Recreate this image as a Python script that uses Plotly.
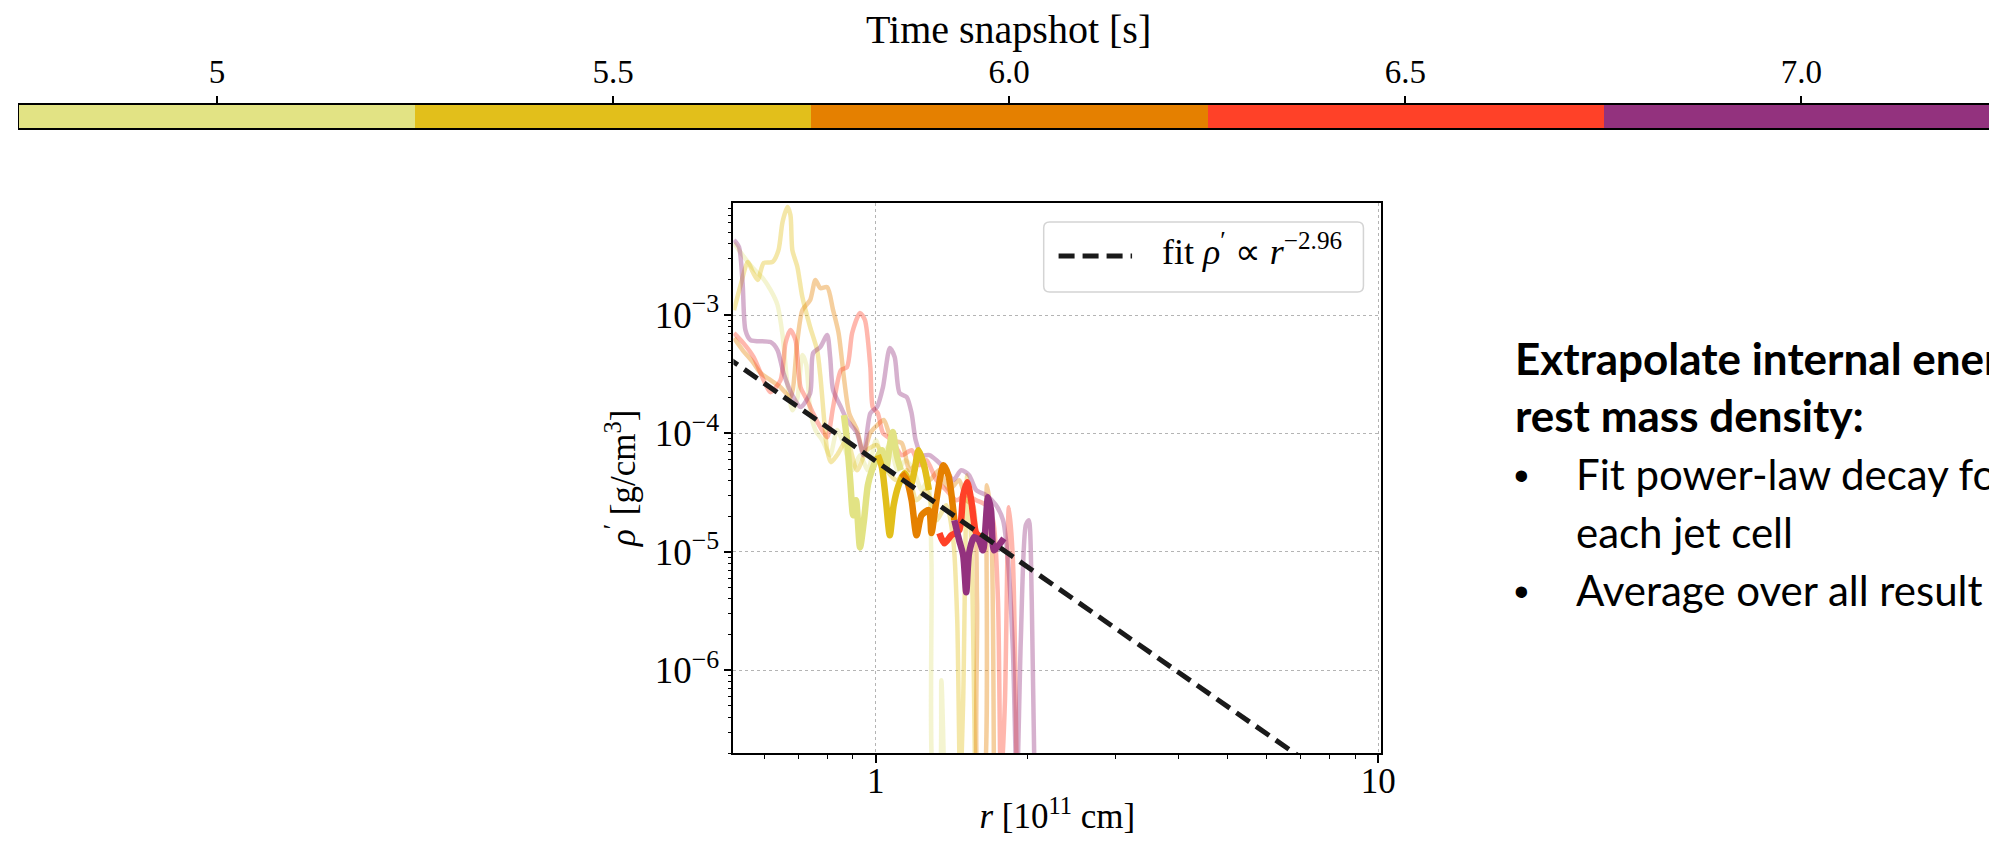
"""Jet-cell density profiles with a power-law fit and a time-snapshot colour bar"""

import plotly.graph_objects as go

# The page shows the figure 8px down from the top of the window, so the figure
# is made 8px shorter and all window positions are shifted by that amount.
OFF_Y = 8
W, H = 1997, 851 - OFF_Y

# Time snapshots [s] on the colour bar
snapshot_times = [5.0, 5.5, 6.0, 6.5, 7.0]
snapshot_labels = ["5", "5.5", "6.0", "6.5", "7.0"]

# Full radial profiles (drawn faded): r in 1e11 cm, rho' in g/cm^3
r_50 = [0.522, 0.543, 0.569, 0.595, 0.617, 0.637, 0.652, 0.667, 0.682, 0.698, 0.714, 0.727,
        0.740, 0.758, 0.782, 0.811, 0.837, 0.864, 0.897, 0.930, 0.964, 1.000, 1.028, 1.065,
        1.105, 1.146, 1.189, 1.233, 1.268, 1.290, 1.308, 1.332, 1.350, 1.369]
rho_50 = [4.06e-3, 3.21e-3, 2.50e-3, 2.06e-3, 1.63e-3, 1.22e-3, 6.78e-4, 2.56e-4, 1.57e-4,
          1.99e-4, 4.59e-4, 3.78e-4, 1.57e-4, 1.07e-4, 8.78e-5, 6.56e-5, 1.07e-4, 7.96e-5,
          4.89e-5, 6.56e-5, 4.89e-5, 8.78e-5, 6.56e-5, 7.96e-5, 4.89e-5, 5.94e-5, 4.89e-5,
          3.32e-5, 4.03e-5, 8.49e-6, 1e-7, 1e-7, 8.22e-7, 1e-7]

r_55 = [0.522, 0.538, 0.556, 0.569, 0.582, 0.598, 0.623, 0.640, 0.652, 0.667, 0.676, 0.682,
        0.698, 0.714, 0.740, 0.764, 0.775, 0.789, 0.800, 0.814, 0.837, 0.876, 0.917, 0.960,
        1.005, 1.052, 1.100, 1.152, 1.205, 1.261, 1.320, 1.381, 1.426, 1.452, 1.472, 1.492,
        1.520, 1.548, 1.577]
rho_55 = [1.10e-3, 1.79e-3, 2.81e-3, 2.31e-3, 1.98e-3, 2.75e-3, 2.81e-3, 3.54e-3, 6.11e-3,
          8.18e-3, 7.00e-3, 3.54e-3, 2.54e-3, 1.42e-3, 7.92e-4, 5.06e-4, 3.11e-4, 1.30e-4,
          7.22e-5, 5.72e-5, 6.56e-5, 8.78e-5, 4.89e-5, 7.22e-5, 7.96e-5, 4.89e-5, 4.03e-5,
          4.89e-5, 2.73e-5, 3.32e-5, 1.85e-5, 2.48e-5, 1.25e-5, 2.64e-6, 1e-7, 5.57e-7,
          4.44e-5, 1.25e-5, 1e-7]

r_60 = [0.522, 0.543, 0.569, 0.590, 0.617, 0.646, 0.676, 0.698, 0.714, 0.740, 0.758, 0.775,
        0.800, 0.822, 0.843, 0.865, 0.885, 0.917, 0.945, 0.975, 1.005, 1.037, 1.076, 1.126,
        1.168, 1.222, 1.278, 1.336, 1.397, 1.465, 1.513, 1.561, 1.590, 1.604, 1.634, 1.664,
        1.695, 1.718]
rho_60 = [6.39e-4, 5.06e-4, 4.01e-4, 3.23e-4, 2.82e-4, 2.46e-4, 2.03e-4, 6.15e-4, 1.10e-3,
          1.34e-3, 1.98e-3, 1.69e-3, 1.72e-3, 1.10e-3, 7.05e-4, 2.82e-4, 1.48e-4, 1.07e-4,
          6.82e-5, 1.01e-4, 1.17e-4, 1.30e-4, 8.78e-5, 8.28e-5, 4.89e-5, 5.94e-5, 4.03e-5,
          4.89e-5, 3.32e-5, 4.03e-5, 2.73e-5, 2.48e-5, 3.90e-6, 1e-7, 1e-7, 3.66e-5, 1.85e-5,
          1e-7]

r_65 = [0.522, 0.545, 0.571, 0.598, 0.617, 0.646, 0.661, 0.676, 0.692, 0.708, 0.730, 0.750,
        0.775, 0.800, 0.822, 0.852, 0.876, 0.897, 0.930, 0.951, 0.975, 0.986, 1.009, 1.033,
        1.076, 1.126, 1.178, 1.222, 1.261, 1.320, 1.381, 1.446, 1.513, 1.584, 1.657, 1.711,
        1.750, 1.774, 1.807, 1.840, 1.874, 1.908]
rho_65 = [7.05e-4, 5.80e-4, 4.42e-4, 2.82e-4, 2.23e-4, 2.82e-4, 5.80e-4, 7.47e-4, 6.15e-4,
          2.46e-4, 1.91e-4, 1.48e-4, 1.13e-4, 9.30e-5, 1.67e-4, 3.43e-4, 3.63e-4, 7.05e-4,
          1.04e-3, 9.07e-4, 3.63e-4, 1.67e-4, 1.48e-4, 1.01e-4, 8.78e-5, 6.56e-5, 7.22e-5,
          5.40e-5, 5.94e-5, 4.03e-5, 3.32e-5, 2.73e-5, 3.01e-5, 2.73e-5, 2.48e-5, 1.85e-5,
          3.90e-6, 1e-7, 5.57e-7, 2.38e-5, 8.49e-6, 1e-7]

r_70 = [0.522, 0.534, 0.543, 0.550, 0.563, 0.617, 0.637, 0.655, 0.685, 0.708, 0.740, 0.750,
        0.775, 0.800, 0.811, 0.822, 0.852, 0.876, 0.917, 0.945, 0.975, 1.005, 1.033, 1.066,
        1.090, 1.115, 1.152, 1.178, 1.200, 1.233, 1.278, 1.320, 1.381, 1.426, 1.479, 1.533,
        1.584, 1.657, 1.734, 1.791, 1.832, 1.874, 1.908, 1.943, 1.988, 2.015, 2.043, 2.071]
rho_70 = [4.31e-3, 3.76e-3, 1.86e-3, 7.47e-4, 6.15e-4, 5.91e-4, 5.06e-4, 3.23e-4, 2.03e-4,
          1.67e-4, 2.19e-4, 4.77e-4, 5.36e-4, 6.78e-4, 4.42e-4, 2.32e-4, 1.67e-4, 1.30e-4,
          1.01e-4, 6.56e-5, 1.48e-4, 1.67e-4, 2.46e-4, 5.26e-4, 4.42e-4, 2.19e-4, 2.03e-4,
          1.48e-4, 8.78e-5, 6.56e-5, 6.56e-5, 5.94e-5, 4.89e-5, 4.03e-5, 4.89e-5, 4.44e-5,
          3.32e-5, 3.01e-5, 2.48e-5, 1.85e-5, 8.49e-6, 1.47e-6, 1e-7, 1.79e-6, 1.68e-5,
          1.85e-5, 3.90e-6, 1e-7]

# Parts of each profile used for the fit (drawn solid)
r_50_fit = [0.864, 0.876, 0.889, 0.901, 0.913, 0.930, 0.947, 0.964, 0.982, 1.005, 1.028, 1.047,
            1.066, 1.080, 1.100, 1.121]
rho_50_fit = [1.43e-4, 8.78e-5, 4.03e-5, 2.04e-5, 2.73e-5, 1.09e-5, 1.85e-5, 3.66e-5, 4.89e-5,
              6.18e-5, 7.22e-5, 4.89e-5, 7.96e-5, 1.03e-4, 6.56e-5, 4.89e-5]
r_55_fit = [1.009, 1.028, 1.047, 1.066, 1.085, 1.110, 1.140, 1.173, 1.194, 1.216, 1.247, 1.275]
rho_55_fit = [6.56e-5, 5.19e-5, 2.73e-5, 1.38e-5, 2.48e-5, 3.66e-5, 4.62e-5, 3.66e-5, 4.89e-5,
              7.22e-5, 5.40e-5, 3.32e-5]
r_60_fit = [1.126, 1.152, 1.178, 1.205, 1.233, 1.275, 1.290, 1.320, 1.363, 1.394, 1.433]
rho_60_fit = [4.62e-5, 4.03e-5, 2.73e-5, 1.38e-5, 2.04e-5, 2.25e-5, 1.44e-5, 2.73e-5, 5.40e-5,
              4.44e-5, 1.85e-5]
r_65_fit = [1.338, 1.369, 1.413, 1.465, 1.492, 1.520, 1.548, 1.584, 1.620]
rho_65_fit = [1.44e-5, 1.18e-5, 1.38e-5, 1.52e-5, 3.01e-5, 3.88e-5, 2.73e-5, 1.44e-5, 1.33e-5]
r_70_fit = [1.433, 1.465, 1.492, 1.513, 1.533, 1.569, 1.604, 1.634, 1.672, 1.695, 1.718, 1.757,
            1.798]
rho_70_fit = [1.85e-5, 1.25e-5, 9.36e-6, 4.55e-6, 9.73e-6, 1.33e-5, 1.25e-5, 1.03e-5, 2.89e-5,
              2.25e-5, 1.03e-5, 1.14e-5, 1.30e-5]

# Power-law fit rho' ~ r^-2.96 (end points)
fit_r = [0.5, 10.0]
fit_rho = [4.54e-4, 6.39e-8]

# Styling
snapshot_colors = ["#e2e384", "#e2bf1b", "#e58000", "#ff4128", "#93327e"]
SERIF = "Liberation Serif"
SANS = "Lato"


def px_x(x):
    # window pixel -> paper fraction
    return x / W


def px_y(y):
    return 1 - (y - OFF_Y) / H


def faded(hex_color, alpha=0.38):
    h = hex_color.lstrip("#")
    r, g, b = (int(h[i:i + 2], 16) for i in (0, 2, 4))
    return f"rgba({r},{g},{b},{alpha})"


fig = go.Figure()

# Faded full profiles
profiles = [(r_50, rho_50), (r_55, rho_55), (r_60, rho_60), (r_65, rho_65), (r_70, rho_70)]
for (r, rho), color in zip(profiles, snapshot_colors):
    fig.add_trace(go.Scatter(
        x=r, y=rho, mode="lines",
        line=dict(color=faded(color), width=4.5, shape="spline", smoothing=0.7),
        hoverinfo="skip", showlegend=False,
    ))

# Solid fit regions
fit_parts = [(r_50_fit, rho_50_fit), (r_55_fit, rho_55_fit), (r_60_fit, rho_60_fit),
             (r_65_fit, rho_65_fit), (r_70_fit, rho_70_fit)]
for (r, rho), color in zip(fit_parts, snapshot_colors):
    fig.add_trace(go.Scatter(
        x=r, y=rho, mode="lines",
        line=dict(color=color, width=6.5, shape="spline", smoothing=0.7),
        hoverinfo="skip", showlegend=False,
    ))

# Dashed power-law fit
fig.add_trace(go.Scatter(
    x=fit_r, y=fit_rho, mode="lines",
    line=dict(color="#1a1a1a", width=5, dash="16px,8px"),
    showlegend=False,
))

# Colour bar as a one-row heatmap on its own axes
colorscale = []
for i, c in enumerate(snapshot_colors):
    colorscale += [[i / 5, c], [(i + 1) / 5, c]]
fig.add_trace(go.Heatmap(
    x=snapshot_times, y=[0], z=[snapshot_times],
    zmin=4.75, zmax=7.25, colorscale=colorscale, showscale=False,
    xaxis="x2", yaxis="y2", hoverinfo="skip",
))

# Minor tick positions for the log axes
x_minor = [0.6, 0.7, 0.8, 0.9] + list(range(2, 10))
y_minor = [k * 10.0 ** d for d in range(-7, -2) for k in range(2, 10)]

fig.update_layout(
    width=W, height=H,
    margin=dict(l=0, r=0, t=0, b=0),
    paper_bgcolor="white", plot_bgcolor="white",
    font=dict(family=SERIF, color="black"),
    showlegend=False,
    xaxis=dict(
        type="log", domain=[px_x(730.5), px_x(1383)], range=[-0.2836, 1.006], anchor="y",
        tickvals=[1, 10], ticktext=["1", "10"],
        ticks="outside", ticklen=8, tickwidth=1.5, tickcolor="black",
        minor=dict(tickvals=x_minor, ticks="outside", ticklen=4, tickwidth=1,
                   tickcolor="black", showgrid=False),
        showgrid=True, gridcolor="#b4b4b4", griddash="dot", gridwidth=1.2,
        showline=True, linecolor="black", linewidth=1.6, mirror=True, zeroline=False,
        tickfont=dict(size=35), ticklabelstandoff=-12,
        title=dict(text="<i>r</i> [10<sup>11</sup> cm]", font=dict(size=35), standoff=4),
    ),
    yaxis=dict(
        type="log", domain=[px_y(753), px_y(202.7)], range=[-6.699, -2.051], anchor="x",
        tickvals=[1e-6, 1e-5, 1e-4, 1e-3],
        ticktext=["10<sup>−6</sup>", "10<sup>−5</sup>", "10<sup>−4</sup>", "10<sup>−3</sup>"],
        ticks="outside", ticklen=8, tickwidth=1.5, tickcolor="black",
        minor=dict(tickvals=y_minor, ticks="outside", ticklen=4, tickwidth=1,
                   tickcolor="black", showgrid=False),
        showgrid=True, gridcolor="#b4b4b4", griddash="dot", gridwidth=1.2,
        showline=True, linecolor="black", linewidth=1.6, mirror=True, zeroline=False,
        tickfont=dict(size=37), ticklabelstandoff=-3,
        title=dict(text="<i>ρ</i><sup>′</sup> [g/cm<sup>3</sup>]", font=dict(size=35),
                   standoff=8),
    ),
    xaxis2=dict(
        domain=[px_x(11), 1.0], range=[4.75, 7.2393], anchor="y2", side="top",
        tickvals=snapshot_times, ticktext=snapshot_labels,
        ticks="outside", ticklen=7, tickwidth=1.5, tickcolor="black",
        showline=True, linecolor="black", linewidth=2, mirror=True,
        showgrid=False, zeroline=False,
        tickfont=dict(size=33),
    ),
    yaxis2=dict(
        domain=[px_y(128), px_y(105)], range=[-0.5, 0.5], anchor="x2",
        showticklabels=False, ticks="", showgrid=False, zeroline=False,
        showline=True, linecolor="black", linewidth=1.2, mirror=True,
    ),
)

# Colour bar title
fig.add_annotation(
    text="Time snapshot [s]", xref="paper", yref="paper",
    x=px_x(1008), y=px_y(29), xanchor="center", yanchor="middle", showarrow=False,
    font=dict(family=SERIF, size=40, color="black"),
)

# Legend box drawn by hand (rounded frame, dashed sample, label)
x0, x1 = px_x(1043), px_x(1365)
y0, y1 = px_y(292), px_y(222)
rx, ry = 6 / W, 6 / H
frame = (f"M {x0 + rx},{y1} L {x1 - rx},{y1} Q {x1},{y1} {x1},{y1 - ry} "
         f"L {x1},{y0 + ry} Q {x1},{y0} {x1 - rx},{y0} L {x0 + rx},{y0} "
         f"Q {x0},{y0} {x0},{y0 + ry} L {x0},{y1 - ry} Q {x0},{y1} {x0 + rx},{y1} Z")
fig.add_shape(type="path", path=frame, xref="paper", yref="paper",
              line=dict(color="#d4d4d4", width=1.5), fillcolor="rgba(255,255,255,0.8)")
fig.add_shape(type="line", xref="paper", yref="paper",
              x0=px_x(1058), x1=px_x(1132), y0=px_y(256), y1=px_y(256),
              line=dict(color="#1a1a1a", width=5, dash="16px,8px"))
fig.add_annotation(
    text="fit <i>ρ</i><sup>′</sup> ∝ <i>r</i><sup>−2.96</sup>",
    xref="paper", yref="paper", x=px_x(1160), y=px_y(274),
    xanchor="left", yanchor="bottom", showarrow=False,
    font=dict(family=SERIF, size=36, color="black"),
)

# Slide text on the right (cut off at the edge as in the original)
notes = [
    ("<b>Extrapolate internal ener</b>", 1516, 377, 44),
    ("<b>rest mass density:</b>", 1516, 434, 44),
    ("Fit power-law decay fo", 1577, 492, 42),
    ("each jet cell", 1577, 550, 42),
    ("Average over all result", 1577, 608, 42),
]
for text, x, base, size in notes:
    fig.add_annotation(
        text=text, xref="paper", yref="paper", x=px_x(x), y=px_y(base + 9),
        xanchor="left", yanchor="bottom", showarrow=False,
        font=dict(family=SANS, size=size, color="black"),
    )
for base in (492, 608):
    fig.add_annotation(
        text="•", xref="paper", yref="paper", x=px_x(1515), y=px_y(base + 9),
        xanchor="left", yanchor="bottom", showarrow=False,
        font=dict(family="Liberation Sans", size=42, color="black"),
    )

fig.write_html("out.html")
